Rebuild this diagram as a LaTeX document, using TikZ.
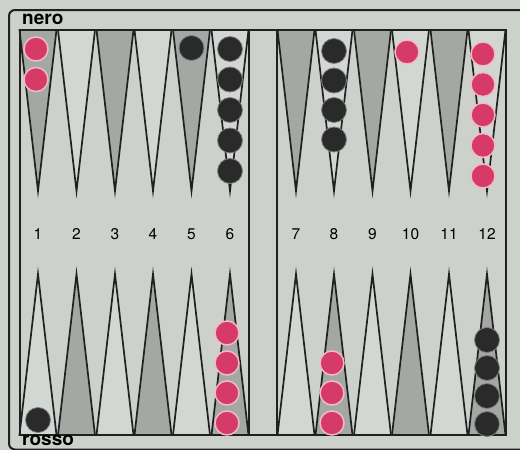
\documentclass[tikz,border=0pt]{standalone}
\usepackage{fontspec}
\setmainfont{TeX Gyre Heros}
\definecolor{sfondo}{RGB}{204,209,204}
\definecolor{chiaro}{RGB}{211,215,211}
\definecolor{scuro}{RGB}{163,168,164}
\definecolor{rossa}{RGB}{214,58,102}
\definecolor{nera}{RGB}{42,42,42}
\definecolor{linea}{RGB}{32,32,32}
\begin{document}
\begin{tikzpicture}[x=1pt,y=-1pt,
    punta scura/.style={fill=scuro,draw=linea,line width=1.7pt},
    punta chiara/.style={fill=chiaro,draw=linea,line width=1.7pt},
    pedina rossa/.style={fill=rossa,draw=rossa!35!white,line width=1.5pt},
    pedina nera/.style={fill=nera,draw=nera!60!white,line width=0.8pt},
    numero/.style={font=\fontsize{15.5}{18}\selectfont},
    giocatore/.style={font=\fontsize{19}{22}\selectfont\bfseries,anchor=base west,inner sep=0pt}]

        % Fondo e cornice esterna
        \fill[sfondo] (0,0) rectangle (520,450);
        \useasboundingbox (0,0) rectangle (520,450);
        \draw[linea,line width=2pt,rounded corners=6pt] (560,10) -- (9,10) -- (9,449.5) -- (560,449.5);

        % Punte in alto (1-6)
        \draw[punta scura]  (19.5,30) -- (38,191) -- (56.5,30) -- cycle;
        \draw[punta chiara] (58,30) -- (76.5,191) -- (95,30) -- cycle;
        \draw[punta scura]  (96.5,30) -- (115,191) -- (133.5,30) -- cycle;
        \draw[punta chiara] (134.5,30) -- (153,191) -- (171.5,30) -- cycle;
        \draw[punta scura]  (173,30) -- (191.5,191) -- (210,30) -- cycle;
        \draw[punta chiara] (211.5,30) -- (230,191) -- (248.5,30) -- cycle;

        % Punte in alto (7-12)
        \draw[punta scura]  (277.5,30) -- (296,191) -- (314.5,30) -- cycle;
        \draw[punta chiara] (315.5,30) -- (334,191) -- (352.5,30) -- cycle;
        \draw[punta scura]  (354,30) -- (372.5,191) -- (391,30) -- cycle;
        \draw[punta chiara] (392,30) -- (410.5,191) -- (429,30) -- cycle;
        \draw[punta scura]  (430.5,30) -- (449,191) -- (467.5,30) -- cycle;
        \draw[punta chiara] (468.5,30) -- (487,191) -- (505.5,30) -- cycle;

        % Punte in basso (1-6)
        \draw[punta chiara] (19.5,435) -- (38,274) -- (56.5,435) -- cycle;
        \draw[punta scura]  (58,435) -- (76.5,274) -- (95,435) -- cycle;
        \draw[punta chiara] (96.5,435) -- (115,274) -- (133.5,435) -- cycle;
        \draw[punta scura]  (134.5,435) -- (153,274) -- (171.5,435) -- cycle;
        \draw[punta chiara] (173,435) -- (191.5,274) -- (210,435) -- cycle;
        \draw[punta scura]  (211.5,435) -- (230,274) -- (248.5,435) -- cycle;

        % Punte in basso (7-12)
        \draw[punta chiara] (277.5,435) -- (296,274) -- (314.5,435) -- cycle;
        \draw[punta scura]  (315.5,435) -- (334,274) -- (352.5,435) -- cycle;
        \draw[punta chiara] (354,435) -- (372.5,274) -- (391,435) -- cycle;
        \draw[punta scura]  (392,435) -- (410.5,274) -- (429,435) -- cycle;
        \draw[punta chiara] (430.5,435) -- (449,274) -- (467.5,435) -- cycle;
        \draw[punta scura]  (468.5,435) -- (487,274) -- (505.5,435) -- cycle;

        % Bordo del tavoliere e barra centrale
        \draw[linea,line width=1.8pt] (20,30) rectangle (506,435);
        \draw[linea,line width=1.8pt] (249,30) -- (249,435);
        \draw[linea,line width=1.8pt] (277,30) -- (277,435);

        % Pedine in alto
        \filldraw[pedina rossa] (36,49) circle (12pt);
        \filldraw[pedina rossa] (36,79.5) circle (12pt);
        \filldraw[pedina nera] (191.5,48) circle (12.5pt);
        \filldraw[pedina nera] (230,49) circle (12.5pt);
        \filldraw[pedina nera] (230,79.5) circle (12.5pt);
        \filldraw[pedina nera] (230,110) circle (12.5pt);
        \filldraw[pedina nera] (230,140.5) circle (12.5pt);
        \filldraw[pedina nera] (230,171) circle (12.5pt);
        \filldraw[pedina nera] (334,51) circle (12.5pt);
        \filldraw[pedina nera] (334,80.5) circle (12.5pt);
        \filldraw[pedina nera] (334,110) circle (12.5pt);
        \filldraw[pedina nera] (334,139.5) circle (12.5pt);
        \filldraw[pedina rossa] (407,52) circle (12pt);
        \filldraw[pedina rossa] (483,54) circle (12pt);
        \filldraw[pedina rossa] (483,84.5) circle (12pt);
        \filldraw[pedina rossa] (483,115) circle (12pt);
        \filldraw[pedina rossa] (483,145.5) circle (12pt);
        \filldraw[pedina rossa] (483,176) circle (12pt);

        % Pedine in basso
        \filldraw[pedina nera] (38,420) circle (12.5pt);
        \filldraw[pedina rossa] (227,423) circle (12pt);
        \filldraw[pedina rossa] (227,393) circle (12pt);
        \filldraw[pedina rossa] (227,363) circle (12pt);
        \filldraw[pedina rossa] (227,333) circle (12pt);
        \filldraw[pedina rossa] (332,423) circle (12pt);
        \filldraw[pedina rossa] (332,393) circle (12pt);
        \filldraw[pedina rossa] (332,363) circle (12pt);
        \filldraw[pedina nera] (487,424) circle (12.5pt);
        \filldraw[pedina nera] (487,396) circle (12.5pt);
        \filldraw[pedina nera] (487,368) circle (12.5pt);
        \filldraw[pedina nera] (487,340) circle (12.5pt);

        % Numeri delle punte
        \node[numero] (p1) at (38,234) {1};
        \node[numero] (p2) at (76.5,234) {2};
        \node[numero] (p3) at (115,234) {3};
        \node[numero] (p4) at (153,234) {4};
        \node[numero] (p5) at (191.5,234) {5};
        \node[numero] (p6) at (230,234) {6};
        \node[numero] (p7) at (296,234) {7};
        \node[numero] (p8) at (334,234) {8};
        \node[numero] (p9) at (372.5,234) {9};
        \node[numero] (p10) at (410.5,234) {10};
        \node[numero] (p11) at (449,234) {11};
        \node[numero] (p12) at (487,234) {12};

        % Nomi dei giocatori
        \node[giocatore] (nero) at (22,24) {nero};
        \node[giocatore] (rosso) at (22,445) {rosso};

    \end{tikzpicture}
\end{document}
